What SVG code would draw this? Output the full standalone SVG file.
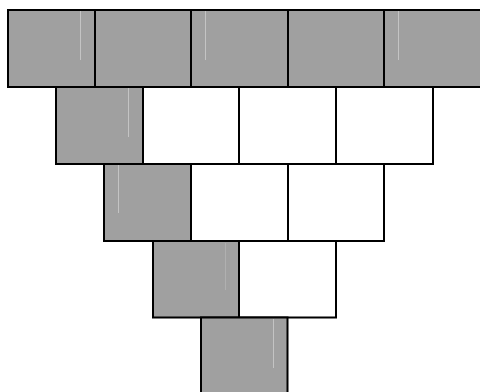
<svg xmlns="http://www.w3.org/2000/svg" width="480" height="392" viewBox="0 0 480 392">
<style>
.g{fill:#a0a0a0;stroke:#000;stroke-width:2}
.w{fill:#fff;stroke:#000;stroke-width:2}
.hl{stroke:#c4c4c4;stroke-width:1}
.hf{stroke:#b0b0b0;stroke-width:1}
</style>
<rect width="480" height="392" fill="#fff"/>
<g id="r1b1"><rect class="g" x="8" y="10" width="87" height="77"/><line class="hl" x1="80.5" y1="11" x2="80.5" y2="60"/></g>
<g id="r1b2"><rect class="g" x="95" y="10" width="96" height="77"/></g>
<g id="r1b3"><rect class="g" x="191" y="10" width="97" height="77"/><line class="hl" x1="205.5" y1="11" x2="205.5" y2="60"/></g>
<g id="r1b4"><rect class="g" x="288" y="10" width="96" height="77"/></g>
<g id="r1b5"><rect class="g" x="384" y="10" width="98" height="77"/><line class="hl" x1="398.5" y1="11" x2="398.5" y2="60"/></g>
<g id="r2b1"><rect class="g" x="56" y="87" width="87" height="77"/><line class="hl" x1="128.5" y1="88" x2="128.5" y2="137"/></g>
<g id="r2b2"><rect class="w" x="143" y="87" width="96" height="77"/></g>
<g id="r2b3"><rect class="w" x="239" y="87" width="97" height="77"/></g>
<g id="r2b4"><rect class="w" x="336" y="87" width="97" height="77"/></g>
<g id="r3b1"><rect class="g" x="104" y="164" width="87" height="77"/><line class="hl" x1="118.5" y1="165" x2="118.5" y2="213"/></g>
<g id="r3b2"><rect class="w" x="191" y="164" width="97" height="77"/></g>
<g id="r3b3"><rect class="w" x="288" y="164" width="96" height="77"/></g>
<g id="r4b1"><rect class="g" x="153" y="241" width="86" height="76.5"/><line class="hf" x1="225.5" y1="243" x2="225.5" y2="290"/></g>
<g id="r4b2"><rect class="w" x="239" y="241" width="97" height="76.5"/></g>
<g id="r5b1"><rect class="g" x="201" y="317.5" width="86.5" height="78"/><line class="hl" x1="273.5" y1="319" x2="273.5" y2="368"/></g>
</svg>
